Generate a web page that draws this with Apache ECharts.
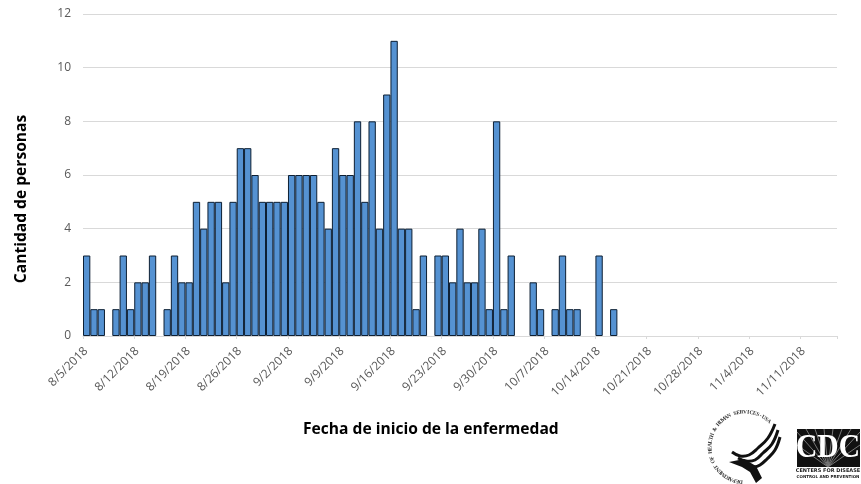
<!DOCTYPE html>
<html>
<head>
<meta charset="utf-8">
<style>
html, body { margin: 0; padding: 0; background: #fff; }
#container { width: 861px; height: 484px; }
</style>
<script src="https://cdn.jsdelivr.net/npm/echarts@6/dist/echarts.min.js"></script>
</head>
<body>
<div id="container"></div>
<script>
// casos por dia, desde 8/5/2018
var counts = [
    3, 1, 1, 0, 1, 3, 1,
    2, 2, 3, 0, 1, 3, 2,
    2, 5, 4, 5, 5, 2, 5,
    7, 7, 6, 5, 5, 5, 5,
    6, 6, 6, 6, 5, 4, 7,
    6, 6, 8, 5, 8, 4, 9,
    11, 4, 4, 1, 3, 0, 3,
    3, 2, 4, 2, 2, 4, 1,
    8, 1, 3, 0, 0, 2, 1,
    0, 1, 3, 1, 1, 0, 0,
    3, 0, 1
];
var startDate = [2018, 7, 5];
var dayCount = 103;
var yTicks = { min: 0, max: 12, interval: 2 };
var xAxisTitle = 'Fecha de inicio de la enfermedad';
var yAxisTitle = 'Cantidad de personas';
var sealText = 'DEPARTMENT OF HEALTH & HUMAN SERVICES-USA';

var days = [];
for (var i = 0; i < dayCount; i++) {
    var d = new Date(startDate[0], startDate[1], startDate[2] + i);
    days.push((d.getMonth() + 1) + '/' + d.getDate() + '/' + d.getFullYear());
}

var myChart = echarts.init(document.getElementById('container'), null, { renderer: 'canvas' });

// logos dibujados a mano
var logos = [
    { type: 'rect', shape: { x: 797, y: 429, width: 63, height: 38 }, style: { fill: '#111' } }
];
[[797, 445], [797, 432], [806, 429], [815, 429], [824, 429], [833, 429], [842, 429], [851, 429], [860, 432], [860, 445]].forEach(function (p) {
    logos.push({
        type: 'line',
        shape: { x1: 828, y1: 467, x2: p[0], y2: p[1] },
        style: { stroke: '#777', lineWidth: 1 }
    });
});
logos.push(
    {
        type: 'text', x: 828, y: 448, scaleX: 0.87,
        style: { text: 'CDC', fill: '#fff', font: 'bold 34px "Liberation Serif"', align: 'center', verticalAlign: 'middle' }
    },
    {
        type: 'text', x: 828, y: 471,
        style: { text: 'CENTERS FOR DISEASE', fill: '#222', font: 'bold 5px "DejaVu Sans"', align: 'center', verticalAlign: 'middle' }
    },
    {
        type: 'text', x: 828, y: 477,
        style: { text: 'CONTROL AND PREVENTION', fill: '#222', font: 'bold 4px "DejaVu Sans"', align: 'center', verticalAlign: 'middle' }
    }
);
// texto curvo del sello
sealText.split('').forEach(function (ch, k) {
    var a = (97 + k * 5.4) * Math.PI / 180;
    logos.push({
        type: 'text',
        x: 745 + Math.cos(a) * 35,
        y: 447 + Math.sin(a) * 35,
        rotation: -(a + Math.PI / 2),
        style: { text: ch, fill: '#333', font: 'bold 5.5px "Liberation Serif"', align: 'center', verticalAlign: 'middle' }
    });
});
[
    [[775, 424], [768, 438], [758, 448], [749, 455], [740, 456], [732, 452]],
    [[778, 430], [772, 444], [763, 453], [755, 460], [746, 461], [738, 458]],
    [[780, 437], [775, 450], [767, 459], [760, 465], [754, 467], [748, 466]]
].forEach(function (pts) {
    logos.push({ type: 'polyline', shape: { points: pts, smooth: 0.4 }, style: { fill: 'none', stroke: '#111', lineWidth: 3 } });
});
logos.push({
    type: 'polygon',
    shape: { points: [[729, 462], [744, 459], [756, 466], [762, 478], [756, 483], [750, 472], [742, 467]] },
    style: { fill: '#111' }
});

var option = {
    animation: false,
    backgroundColor: '#fff',
    grid: { left: 83, right: 24, top: 14, bottom: 148 },
    xAxis: {
        type: 'category',
        data: days,
        boundaryGap: true,
        axisLine: { lineStyle: { color: '#d9d9d9', width: 1 } },
        axisTick: { show: true, interval: 6, length: 3, lineStyle: { color: '#d9d9d9' } },
        splitLine: { show: false },
        axisLabel: {
            interval: 6,
            rotate: 45,
            margin: 4,
            padding: [0, 7, 0, 0],
            color: '#595959',
            fontFamily: 'Open Sans',
            fontSize: 12,
            align: 'right',
            verticalAlign: 'top'
        }
    },
    yAxis: {
        type: 'value',
        min: yTicks.min,
        max: yTicks.max,
        interval: yTicks.interval,
        axisLine: { show: false },
        axisTick: { show: false },
        splitLine: { lineStyle: { color: '#d9d9d9', width: 1 } },
        axisLabel: {
            margin: 12,
            padding: [2, 0, 0, 0],
            color: '#595959',
            fontFamily: 'Open Sans',
            fontSize: 12
        }
    },
    series: [{
        type: 'bar',
        // los dias sin casos no dibujan barra
        data: counts.map(function (v) { return v === 0 ? '-' : v; }),
        barCategoryGap: '0%',
        itemStyle: {
            color: '#5592d2',
            borderColor: '#0d1f33',
            borderWidth: 1
        }
    }],
    graphic: [
        {
            type: 'text', left: 303, top: 422,
            style: { text: xAxisTitle, fill: '#000', font: 'bold 15.6px "Open Sans"' }
        },
        {
            type: 'text', x: 22, y: 199, rotation: Math.PI / 2,
            style: { text: yAxisTitle, fill: '#000', font: 'bold 15.6px "Open Sans"', align: 'center', verticalAlign: 'middle' }
        }
    ].concat(logos)
};

myChart.setOption(option);
window.addEventListener('resize', myChart.resize);
</script>
</body>
</html>
